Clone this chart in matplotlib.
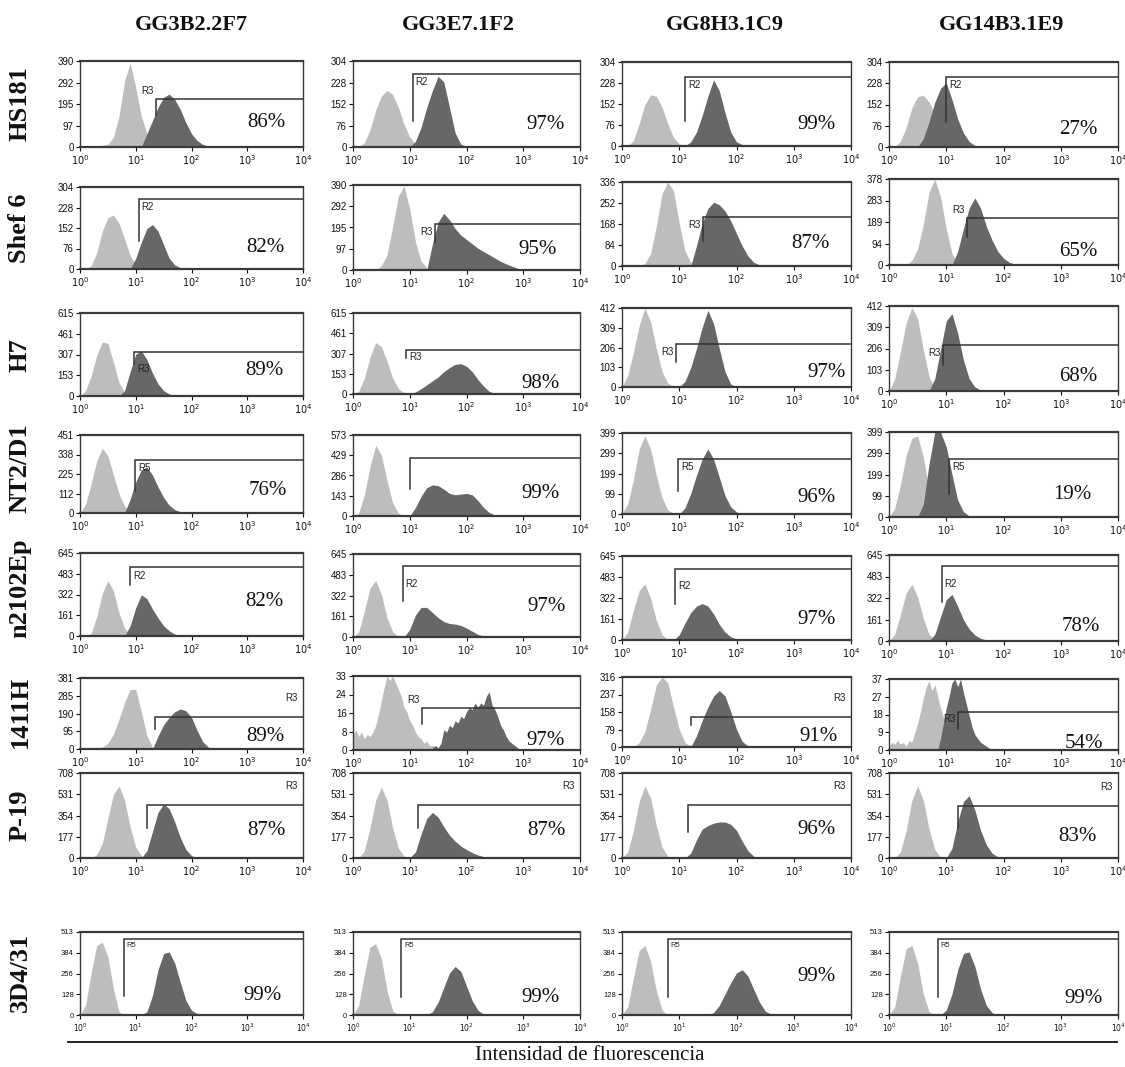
import numpy as np
import matplotlib.pyplot as plt

W, H = 1125, 1067
SERIF = ['Liberation Serif', 'DejaVu Serif']
SANS = ['Liberation Sans Narrow', 'Liberation Sans', 'DejaVu Sans']
LIGHT = '#bdbdbd'
DARK = '#676767'

antibodies = ['GG3B2.2F7', 'GG3E7.1F2', 'GG8H3.1C9', 'GG14B3.1E9']
cell_lines = ['HS181', 'Shef 6', 'H7', 'NT2/D1', 'n2102Ep', '1411H', 'P-19', '3D4/31']

# top of the count axis for every panel (row = cell line, col = antibody)
ymax = [
    [390, 304, 304, 304],
    [304, 390, 336, 378],
    [615, 615, 412, 412],
    [451, 573, 399, 399],
    [645, 645, 645, 645],
    [381, 33, 316, 37],
    [708, 708, 708, 708],
    [513, 513, 513, 513],
]

percent = [
    [86, 97, 99, 27],
    [82, 95, 87, 65],
    [89, 98, 97, 68],
    [76, 99, 96, 19],
    [82, 97, 97, 78],
    [89, 97, 91, 54],
    [87, 87, 96, 83],
    [99, 99, 99, 99],
]

# region marker: name, start (log10 intensity), level (counts), lower end (counts)
gate_name = [
    ['R3', 'R2', 'R2', 'R2'],
    ['R2', 'R3', 'R3', 'R3'],
    ['R3', 'R3', 'R3', 'R3'],
    ['R5', None, 'R5', 'R5'],
    ['R2', 'R2', 'R2', 'R2'],
    ['R3', 'R3', 'R3', 'R3'],
    ['R3', 'R3', 'R3', 'R3'],
    ['R5', 'R5', 'R5', 'R5'],
]
gate_x = [
    [1.37, 1.05, 1.10, 1.00],
    [1.05, 1.45, 1.42, 1.37],
    [0.97, 0.94, 0.95, 0.95],
    [0.99, 1.00, 0.98, 1.05],
    [0.90, 0.88, 0.93, 0.92],
    [1.34, 1.22, 1.20, 1.21],
    [1.20, 1.15, 1.15, 1.20],
    [0.79, 0.85, 0.80, 0.85],
]
gate_level = [
    [218, 259, 250, 250],
    [259, 210, 195, 206],
    [326, 337, 225, 224],
    [308, 407, 272, 272],
    [540, 553, 544, 560],
    [170, 18.8, 134, 20],
    [441, 440, 440, 430],
    [467, 470, 470, 470],
]
gate_low = [
    [145, 91, 90, 90],
    [105, 130, 100, 124],
    [240, 272, 131, 128],
    [129, 189, 114, 108],
    [395, 276, 278, 292],
    [105, 11.4, 100, 10.8],
    [250, 250, 220, 250],
    [120, 110, 110, 110],
]

# histograms: (first bin in log10 units, bin width in log10 units, counts)
control = [
    [(0.0, 0.1, [4, 4, 5, 5, 8, 12, 45, 140, 300, 380, 270, 140, 60, 18, 4, 0]),
     (0.1, 0.1, [0, 15, 60, 130, 180, 200, 185, 140, 80, 35, 10, 0]),
     (0.1, 0.1, [0, 20, 80, 150, 185, 180, 140, 80, 30, 8, 0]),
     (0.1, 0.1, [0, 20, 70, 140, 180, 185, 160, 120, 60, 20, 0])],
    [(0.1, 0.1, [0, 12, 60, 140, 190, 200, 170, 110, 50, 15, 3, 0]),
     (0.4, 0.1, [0, 20, 70, 200, 340, 385, 280, 130, 40, 10, 0]),
     (0.3, 0.1, [0, 10, 50, 160, 290, 336, 300, 170, 60, 15, 0]),
     (0.3, 0.1, [0, 20, 70, 180, 320, 378, 300, 160, 50, 10, 0])],
    [(0.0, 0.1, [0, 40, 150, 300, 400, 390, 250, 100, 25, 5, 0]),
     (0.0, 0.1, [0, 20, 120, 280, 390, 360, 250, 120, 40, 10, 0]),
     (0.0, 0.1, [0, 60, 180, 320, 412, 340, 200, 80, 20, 3, 0]),
     (0.0, 0.1, [0, 60, 190, 330, 405, 350, 200, 70, 15, 0])],
    [(0.0, 0.1, [0, 50, 170, 300, 375, 330, 220, 110, 40, 10, 0]),
     (0.0, 0.1, [0, 20, 150, 350, 500, 430, 250, 90, 20, 0]),
     (0.0, 0.1, [0, 50, 170, 320, 385, 320, 190, 80, 20, 4, 0]),
     (0.0, 0.1, [0, 40, 150, 290, 370, 380, 280, 130, 40, 8, 0])],
    [(0.1, 0.1, [0, 20, 150, 330, 430, 350, 180, 60, 10, 0]),
     (0.0, 0.1, [0, 40, 200, 380, 440, 330, 150, 40, 5, 0]),
     (0.0, 0.1, [0, 60, 230, 380, 430, 320, 150, 40, 5, 0]),
     (0.0, 0.1, [0, 50, 200, 360, 425, 330, 170, 50, 8, 0])],
    [(0.0, 0.1, [3, 3, 4, 5, 10, 30, 80, 160, 250, 320, 320, 200, 70, 10, 0]),
     (0.0, 0.05, [7, 9, 6, 8, 5, 7, 6, 8, 11, 16, 22, 28, 33, 31, 33, 30, 27, 24,
                  19, 17, 13, 11, 8, 6, 5, 3, 4, 2, 2, 1, 0]),
     (0.2, 0.1, [0, 20, 70, 170, 280, 316, 290, 180, 80, 20, 3, 0]),
     (0.0, 0.05, [2, 4, 3, 5, 3, 4, 2, 5, 4, 9, 14, 20, 27, 33, 36, 31, 34, 28,
                  22, 17, 12, 8, 5, 3, 1, 0])],
    [(0.2, 0.1, [0, 30, 120, 330, 530, 600, 480, 260, 90, 20, 0]),
     (0.1, 0.1, [0, 60, 250, 480, 590, 480, 250, 80, 15, 0]),
     (0.0, 0.1, [0, 50, 230, 470, 600, 500, 270, 90, 15, 0]),
     (0.1, 0.1, [0, 50, 230, 480, 600, 480, 240, 70, 10, 0])],
    [(0.0, 0.1, [0, 60, 260, 430, 450, 360, 160, 20, 0]),
     (0.0, 0.1, [0, 60, 250, 420, 440, 350, 150, 25, 0]),
     (0.0, 0.1, [0, 50, 230, 400, 430, 330, 150, 30, 0]),
     (0.0, 0.1, [0, 50, 240, 410, 430, 320, 130, 20, 0])],
]

stained = [
    [(1.1, 0.1, [0, 60, 120, 180, 225, 240, 215, 170, 110, 60, 30, 12, 4, 0]),
     (1.0, 0.1, [0, 20, 70, 140, 200, 250, 230, 140, 50, 10, 3, 0]),
     (1.1, 0.1, [0, 15, 50, 110, 180, 240, 200, 120, 50, 15, 5, 0]),
     (0.5, 0.1, [0, 30, 90, 160, 210, 230, 170, 100, 50, 20, 5, 0])],
    [(0.9, 0.1, [0, 40, 100, 150, 165, 140, 90, 40, 15, 5, 2, 0]),
     (1.3, 0.1, [0, 120, 220, 260, 230, 190, 160, 140, 120, 100, 85, 70, 55, 40,
                 28, 18, 8, 0]),
     (1.2, 0.1, [0, 80, 170, 230, 255, 245, 220, 180, 130, 80, 40, 15, 5, 0]),
     (1.1, 0.1, [0, 60, 160, 250, 295, 250, 170, 110, 60, 30, 12, 4, 0])],
    [(0.7, 0.1, [0, 40, 180, 310, 335, 270, 170, 90, 40, 15, 5, 0]),
     (1.0, 0.1, [0, 15, 40, 70, 100, 130, 170, 200, 225, 230, 210, 170, 110, 60,
                 20, 5, 0]),
     (1.0, 0.1, [0, 30, 100, 200, 310, 400, 330, 200, 80, 15, 0]),
     (0.7, 0.1, [0, 60, 200, 340, 375, 280, 150, 60, 20, 5, 0])],
    [(0.8, 0.1, [0, 80, 180, 250, 265, 220, 150, 90, 45, 20, 7, 0]),
     (1.0, 0.1, [0, 60, 140, 200, 220, 215, 190, 160, 150, 155, 160, 150, 110,
                 60, 25, 8, 0]),
     (1.0, 0.1, [0, 30, 100, 190, 270, 320, 270, 180, 90, 35, 10, 0]),
     (0.5, 0.1, [0, 60, 250, 399, 399, 330, 200, 80, 25, 5, 0])],
    [(0.8, 0.1, [0, 80, 220, 320, 290, 210, 140, 80, 40, 15, 5, 0]),
     (0.9, 0.1, [0, 60, 170, 230, 230, 190, 150, 120, 105, 100, 90, 70, 45, 20,
                 8, 0]),
     (0.9, 0.1, [0, 40, 130, 210, 260, 280, 260, 200, 120, 60, 25, 8, 0]),
     (0.7, 0.1, [0, 50, 180, 310, 350, 260, 160, 90, 45, 20, 8, 3, 0])],
    [(1.3, 0.1, [0, 70, 130, 170, 200, 215, 205, 170, 100, 40, 10, 0]),
     (1.4, 0.05, [1, 2, 1, 3, 9, 8, 11, 10, 13, 12, 15, 14, 17, 19, 18, 21, 19,
                  21, 20, 24, 26, 20, 18, 15, 11, 9, 6, 4, 3, 2, 1, 0]),
     (1.2, 0.1, [0, 50, 120, 180, 230, 255, 230, 160, 80, 25, 5, 0]),
     (0.85, 0.05, [0, 6, 14, 22, 28, 35, 37, 33, 37, 30, 24, 18, 12, 8, 6, 4, 3,
                   2, 1, 0])],
    [(1.1, 0.1, [0, 60, 220, 380, 450, 410, 300, 170, 70, 20, 0]),
     (1.0, 0.1, [0, 50, 200, 330, 380, 340, 260, 190, 140, 100, 70, 45, 25, 12,
                 5, 0]),
     (1.1, 0.1, [0, 40, 150, 240, 270, 290, 300, 300, 280, 230, 140, 60, 15, 0]),
     (1.0, 0.1, [0, 80, 300, 470, 520, 400, 230, 110, 40, 10, 0])],
    [(1.1, 0.1, [0, 20, 120, 280, 380, 390, 320, 200, 90, 30, 8, 0]),
     (1.3, 0.1, [0, 20, 80, 170, 260, 300, 270, 180, 90, 30, 5, 0]),
     (1.5, 0.1, [0, 15, 60, 130, 200, 260, 280, 240, 160, 80, 25, 5, 0]),
     (0.9, 0.1, [0, 30, 130, 280, 380, 390, 300, 160, 60, 15, 0])],
]

# panel frames in pixels: x of 10^0 and 10^4, y of the top and of zero
col_x = [(80, 303), (353, 580), (622, 851), (889, 1118)]
panel_y = [
    [(61, 147), (61, 147), (62, 146), (62, 147)],
    [(187, 269), (185, 270), (182, 266), (179, 265)],
    [(313, 396), (313, 394), (308, 387), (306, 391)],
    [(435, 513), (435, 516), (433, 514), (432, 517)],
    [(553, 636), (554, 637), (556, 640), (555, 641)],
    [(678, 749), (676, 750), (677, 747), (679, 750)],
    [(773, 858), (773, 858), (773, 858), (773, 858)],
    [(932, 1015), (932, 1015), (932, 1015), (932, 1015)],
]
header_x = [191, 458, 725, 1002]
label_y = [104, 228, 355, 468, 588, 712, 815, 972]

# placement of the region name relative to the marker
gate_place = [
    ['leftabove', 'right', 'right', 'right'],
    ['right', 'left', 'left', 'leftabove'],
    ['rightlow', 'right', 'left', 'left'],
    ['right', None, 'right', 'right'],
    ['rightmid', 'rightmid', 'rightmid', 'rightmid'],
    ['far', 'leftabove', 'far', 'left'],
    ['far', 'far', 'far', 'far'],
    ['right', 'right', 'right', 'right'],
]
# percentage label position: (log10 intensity, fraction of axis height)
pct_pos = [
    [(3.35, 0.28), (3.4, 0.26), (3.4, 0.26), (3.3, 0.20)],
    [(3.33, 0.26), (3.26, 0.24), (3.3, 0.27), (3.3, 0.16)],
    [(3.3, 0.31), (3.3, 0.13), (3.57, 0.18), (3.3, 0.17)],
    [(3.37, 0.29), (3.3, 0.28), (3.4, 0.20), (3.2, 0.27)],
    [(3.3, 0.41), (3.41, 0.37), (3.4, 0.24), (3.35, 0.17)],
    [(3.33, 0.18), (3.4, 0.13), (3.43, 0.15), (3.4, 0.09)],
    [(3.35, 0.32), (3.4, 0.32), (3.4, 0.34), (3.3, 0.25)],
    [(3.28, 0.24), (3.3, 0.21), (3.4, 0.46), (3.4, 0.20)],
]

fig = plt.figure(figsize=(W / 100, H / 100), dpi=100)


def px_axes(x0, x1, ytop, ybot):
    return fig.add_axes([x0 / W, 1 - ybot / H, (x1 - x0) / W, (ybot - ytop) / H])


def draw_hist(ax, hist, color):
    start, step, counts = hist
    counts = np.asarray(counts, dtype=float)
    x = 10 ** (start + step * np.arange(len(counts)))
    ax.fill_between(x, counts, 0, color=color, lw=0, zorder=2)


for r in range(len(cell_lines)):
    for c in range(len(antibodies)):
        x0, x1 = col_x[c]
        yt, yb = panel_y[r][c]
        ax = px_axes(x0, x1, yt, yb)
        top = ymax[r][c]

        draw_hist(ax, control[r][c], LIGHT)
        draw_hist(ax, stained[r][c], DARK)

        ax.set_xscale('log')
        ax.set_xlim(1, 1e4)
        ax.set_ylim(0, top)
        ax.set_xticks([1, 10, 100, 1000, 10000])
        ax.set_xticklabels(['$10^{%d}$' % k for k in range(5)])
        ax.xaxis.set_minor_locator(plt.NullLocator())
        yt_vals = [top * k / 4 for k in range(5)]
        ax.set_yticks(yt_vals)
        ax.set_yticklabels([str(int(v)) for v in yt_vals])
        small = 5.5 if r == 7 else 7
        ax.tick_params(length=3, width=0.8, pad=1.5, labelsize=small, colors='#111')
        for lab in ax.get_yticklabels():
            lab.set_family(SANS)
        for s in ax.spines.values():
            s.set_color('#3a3a3a')
            s.set_linewidth(1.0)
        ax.spines['top'].set_linewidth(1.6)
        ax.spines['bottom'].set_linewidth(1.6)
        ax.patch.set_alpha(0)

        # region marker
        gx = 10 ** gate_x[r][c]
        lev, low = gate_level[r][c], gate_low[r][c]
        ax.plot([gx, gx, 1e4], [low, lev, lev], color='#333', lw=1.1,
                zorder=3, clip_on=False, solid_joinstyle='miter')
        name = gate_name[r][c]
        place = gate_place[r][c]
        if name:
            kw = dict(fontsize=small, family=SANS, color='#222', zorder=4,
                      textcoords='offset points')
            if place == 'right':
                ax.annotate(name, (gx, lev), xytext=(2, -2), ha='left', va='top', **kw)
            elif place == 'left':
                ax.annotate(name, (gx, lev), xytext=(-2, -2), ha='right', va='top', **kw)
            elif place == 'leftabove':
                ax.annotate(name, (gx, lev), xytext=(-2, 2), ha='right', va='bottom', **kw)
            elif place == 'rightlow':
                ax.annotate(name, (gx, low), xytext=(2, 0), ha='left', va='top', **kw)
            elif place == 'rightmid':
                ax.annotate(name, (gx, (lev + low) / 2), xytext=(2, 0), ha='left',
                            va='center', **kw)
            elif place == 'far':
                ax.annotate(name, (1e4, lev), xytext=(-4, 10), ha='right',
                            va='bottom', **kw)

        px, py = pct_pos[r][c]
        ax.text(10 ** px, py * top, '%d%%' % percent[r][c], ha='center',
                va='center', fontsize=15, family=SERIF, color='#111', zorder=5)

# column headers and row labels
for c, name in enumerate(antibodies):
    fig.text(header_x[c] / W, 1 - 25 / H, name, ha='center', va='center',
             fontsize=16, family=SERIF, fontweight='bold', color='#111')
for r, name in enumerate(cell_lines):
    fig.text(20 / W, 1 - label_y[r] / H, name, ha='center', va='center',
             rotation=90, fontsize=19, family=SERIF, fontweight='bold', color='#111')

fig.add_artist(plt.Line2D([68 / W, 1117 / W], [1 - 1042 / H, 1 - 1042 / H],
                          color='#111', lw=1.3))
fig.text(590 / W, 1 - 1056 / H, 'Intensidad de fluorescencia', ha='center',
         va='center', fontsize=15, family=SERIF, color='#111')

fig.savefig('out.png', dpi=100, facecolor='white')
